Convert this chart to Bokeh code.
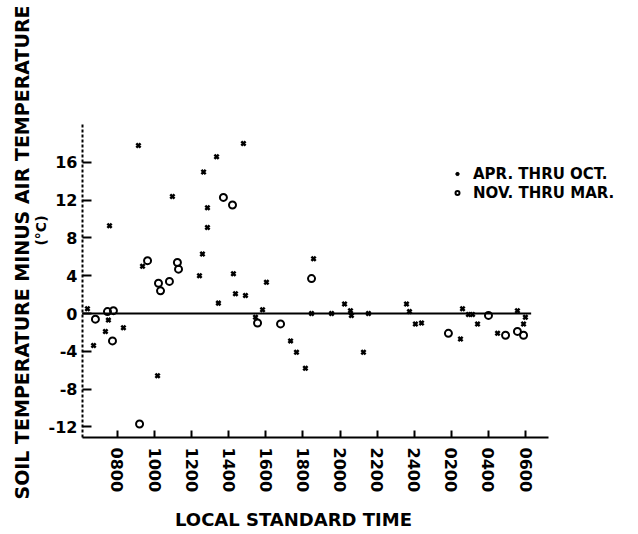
import math
from bokeh.plotting import figure
from bokeh.models import FixedTicker, Label, Legend, LegendItem, Range1d
from bokeh.embed import file_html
from bokeh.resources import INLINE

# Local standard time in hours (continuing past 24 for 0200-0600 of next day)
apr_oct_time = [6.38, 7.51, 7.35, 8.32, 6.71, 7.57, 9.13, 9.35, 10.16, 10.96,
                12.42, 12.58, 12.64, 12.85, 12.85, 13.34, 13.44, 14.25, 14.36, 14.90,
                14.79, 15.82, 15.44, 16.03, 17.33, 17.65, 18.13, 18.57, 18.46, 19.54,
                20.24, 20.56, 20.61, 21.53, 21.26, 23.58, 23.74, 24.06, 24.39, 26.49,
                26.60, 26.92, 27.14, 27.41, 28.49, 29.56, 29.99, 29.89]
apr_oct_diff = [0.5, -0.7, -1.9, -1.5, -3.4, 9.3, 17.8, 5.0, -6.6, 12.4,
                4.0, 6.3, 15.0, 11.2, 9.1, 16.6, 1.1, 4.2, 2.1, 1.9,
                18.0, 0.4, -0.4, 3.3, -2.9, -4.1, -5.8, 5.8, 0.0, 0.0,
                1.0, 0.3, -0.2, 0.0, -4.1, 1.0, 0.2, -1.1, -1.0, -2.7,
                0.5, -0.1, -0.1, -1.1, -2.1, 0.3, -0.4, -1.1]

nov_mar_time = [6.81, 7.46, 7.78, 7.73, 9.19, 9.62, 10.21, 10.80, 10.32, 11.23,
                11.29, 13.71, 14.20, 15.55, 16.79, 18.46, 25.84, 28.00, 28.92, 29.56,
                29.89]
nov_mar_diff = [-0.6, 0.2, 0.3, -2.9, -11.7, 5.6, 3.2, 3.4, 2.4, 5.4,
                4.7, 12.3, 11.5, -1.0, -1.1, 3.7, -2.1, -0.2, -2.3, -1.9,
                -2.3]

x_ticks = [8, 10, 12, 14, 16, 18, 20, 22, 24, 26, 28, 30]
x_tick_labels = ["0800", "1000", "1200", "1400", "1600", "1800", "2000",
                 "2200", "2400", "0200", "0400", "0600"]
y_ticks = [-12, -8, -4, 0, 4, 8, 12, 16]
y_tick_labels = ["-12", "-8", "-4", "0", "4", "8", "12", "16"]

x_axis_extent = (6.11, 31.23)
y_axis_extent = (-13.14, 20.0)
zero_line_time = [6.1, 30.3]
zero_line_value = [0, 0]

FONT = "DejaVu Sans"

p = figure(width=638, height=534, output_backend="svg", toolbar_location=None,
           x_range=Range1d(1.693, 36.087), y_range=Range1d(-23.41, 33.157),
           min_border_left=0, min_border_right=0, min_border_top=0,
           min_border_bottom=0)
p.outline_line_color = None
p.grid.visible = False
p.background_fill_color = "white"
p.border_fill_color = "white"

# axes (fixed at the corner of the data area)
p.xaxis.fixed_location = y_axis_extent[0]
p.xaxis.bounds = x_axis_extent
p.xaxis.ticker = FixedTicker(ticks=x_ticks)
p.xaxis.major_label_overrides = dict(zip(x_ticks, x_tick_labels))
p.xaxis.major_label_orientation = "vertical"
p.xaxis.major_label_text_font = FONT
p.xaxis.major_label_text_font_style = "bold"
p.xaxis.major_label_text_font_size = "16px"
p.xaxis.major_label_text_color = "black"
p.xaxis.major_label_standoff = 10
p.xaxis.major_tick_in = 7
p.xaxis.major_tick_out = 0
p.xaxis.minor_tick_line_color = None
p.xaxis.axis_line_width = 2
p.xaxis.major_tick_line_width = 2
p.xaxis.axis_line_color = "black"
p.xaxis.major_tick_line_color = "black"

p.yaxis.fixed_location = x_axis_extent[0]
p.yaxis.bounds = y_axis_extent
p.yaxis.ticker = FixedTicker(ticks=y_ticks)
p.yaxis.major_label_overrides = dict(zip(y_ticks, y_tick_labels))
p.yaxis.major_label_text_font = FONT
p.yaxis.major_label_text_font_style = "bold"
p.yaxis.major_label_text_font_size = "16px"
p.yaxis.major_label_text_color = "black"
p.yaxis.major_label_standoff = 5
p.yaxis.major_tick_in = 9
p.yaxis.major_tick_out = 0
p.yaxis.minor_tick_line_color = None
p.yaxis.axis_line_width = 2
p.yaxis.axis_line_dash = "3 2"
p.yaxis.major_tick_line_width = 2
p.yaxis.axis_line_color = "black"
p.yaxis.major_tick_line_color = "black"

# zero reference line
p.line(zero_line_time, zero_line_value, line_color="black", line_width=2)

r_x = p.scatter(apr_oct_time, apr_oct_diff, marker="x", size=6,
                line_color="black", line_width=2.5)
r_o = p.scatter(nov_mar_time, nov_mar_diff, marker="circle", size=7,
                fill_color=None, line_color="black", line_width=2)

legend = Legend(items=[LegendItem(label="APR. THRU OCT.", renderers=[r_x]),
                       LegendItem(label="NOV. THRU MAR.", renderers=[r_o])],
                location=(452, 332))
legend.label_text_font = FONT
legend.label_text_font_style = "bold"
legend.label_text_font_size = "15px"
legend.label_text_color = "black"
legend.label_standoff = 11
legend.glyph_width = 10
legend.glyph_height = 19
legend.label_height = 19
legend.spacing = 0
legend.padding = 0
legend.margin = 0
legend.border_line_color = None
legend.background_fill_alpha = 0
p.add_layout(legend, "center")

# axis titles
p.add_layout(Label(x=21, y=282, x_units="screen", y_units="screen",
                   text="SOIL TEMPERATURE MINUS AIR TEMPERATURE",
                   angle=math.pi / 2, text_align="center", text_baseline="middle",
                   text_font=FONT, text_font_style="bold",
                   text_font_size="19px", text_color="black"))
p.add_layout(Label(x=40, y=304, x_units="screen", y_units="screen",
                   text="(°C)", angle=math.pi / 2, text_align="center",
                   text_baseline="middle", text_font=FONT,
                   text_font_style="bold", text_font_size="14px",
                   text_color="black"))
p.add_layout(Label(x=293, y=15, x_units="screen", y_units="screen",
                   text="LOCAL STANDARD TIME", text_align="center",
                   text_baseline="middle", text_font=FONT,
                   text_font_style="bold", text_font_size="18px",
                   text_color="black"))

open("out.html", "w").write(file_html(p, INLINE))
